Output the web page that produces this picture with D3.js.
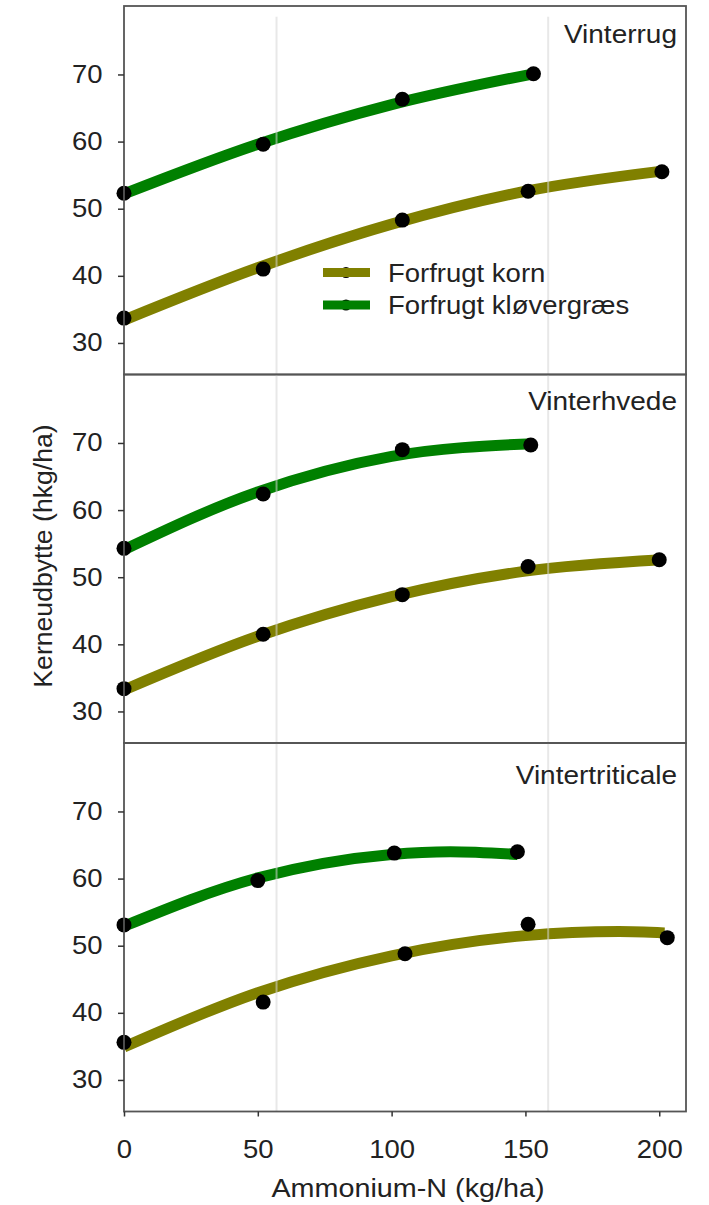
<!DOCTYPE html>
<html>
<head>
<meta charset="utf-8">
<script src="https://cdn.jsdelivr.net/npm/d3@7"></script>
<style>
  body { margin: 0; background: #fff; }
  text { font-family: "Liberation Sans", Arial, sans-serif; fill: #222; }
</style>
</head>
<body>
<svg width="709" height="1205"></svg>
<script>
// Data
const panels = ["Vinterrug", "Vinterhvede", "Vintertriticale"];
const seriesNames = ["Forfrugt korn", "Forfrugt kløvergræs"];
const seriesColors = ["#808000", "#008000"];

// observed points (N rate, yield)
const kornN = [[0, 52, 104, 151, 201], [0, 52, 104, 151, 200], [0, 52, 105, 151, 203]];
const kornYield = [[33.7, 41.0, 48.3, 52.6, 55.5], [33.4, 41.5, 47.4, 51.6, 52.6], [35.6, 41.6, 48.8, 53.2, 51.2]];
const kloverN = [[0, 52, 104, 153], [0, 52, 104, 152], [0, 50, 101, 147]];
const kloverYield = [[52.3, 59.6, 66.3, 70.1], [54.3, 62.4, 69.0, 69.7], [53.1, 59.7, 63.8, 64.0]];

// fitted response curves, read at a few N rates
const fitKornN = [[0, 50, 100, 150, 201], [0, 50, 100, 150, 201], [0, 50, 100, 150, 185, 202]];
const fitKorn = [[33.4, 41.2, 47.7, 52.6, 55.6], [33.2, 41.2, 47.1, 50.9, 52.6], [34.9, 43.0, 48.5, 51.5, 52.1, 51.9]];
const fitKloverN = [[0, 50, 100, 153], [0, 50, 100, 153], [0, 50, 100, 122, 147]];
const fitKlover = [[52.2, 59.6, 65.5, 70.1], [54.1, 62.7, 68.0, 69.9], [52.9, 60.1, 63.6, 64.0, 63.6]];

const xTicks = [0, 50, 100, 150, 200];
const yTicks = [30, 40, 50, 60, 70];
const gridN = [57, 158.5];

// Layout
const svg = d3.select("svg");
const panelTop = [6, 374.5, 743];
const panelH = 368.5;
const gridTop = [78.6, 80.2, 80.2];
const titleBase = [43, 410, 784];

const x = d3.scaleLinear().domain([0, 210]).range([124, 686]);

// stretch text horizontally a bit (the source font renders wider)
function stretch(sel, sx) {
  sel.each(function () {
    const t = d3.select(this);
    const tx = +t.attr("x") || 0, ty = +t.attr("y") || 0;
    t.attr("x", 0).attr("y", 0)
      .attr("transform", `translate(${tx},${ty}) scale(${sx},1)`);
  });
}

panels.forEach((name, i) => {
  const top = panelTop[i];
  const y = d3.scaleLinear().domain([25.3, 80.2]).range([top + panelH, top]);
  const g = svg.append("g");

  const line = d3.line()
    .x(d => x(d[0]))
    .y(d => y(d[1]))
    .curve(d3.curveMonotoneX);

  // fitted curves
  const fits = [
    d3.zip(fitKornN[i], fitKorn[i]),
    d3.zip(fitKloverN[i], fitKlover[i])
  ];
  g.selectAll("path.fit")
    .data(fits)
    .enter()
    .append("path")
    .attr("class", "fit")
    .attr("d", line)
    .attr("fill", "none")
    .attr("stroke", (d, j) => seriesColors[j])
    .attr("stroke-width", 11)
    .attr("stroke-linecap", "butt");

  // light vertical gridlines (drawn over the curves)
  g.selectAll("line.grid")
    .data(gridN)
    .enter()
    .append("line")
    .attr("class", "grid")
    .attr("x1", d => x(d)).attr("x2", d => x(d))
    .attr("y1", y(gridTop[i])).attr("y2", top + panelH)
    .attr("stroke", "#d6d6d6")
    .attr("stroke-opacity", 0.55)
    .attr("stroke-width", 2);

  // observed points
  const pts = d3.zip(kornN[i], kornYield[i]).concat(d3.zip(kloverN[i], kloverYield[i]));
  g.selectAll("circle.pt")
    .data(pts)
    .enter()
    .append("circle")
    .attr("class", "pt")
    .attr("cx", d => x(d[0]))
    .attr("cy", d => y(d[1]))
    .attr("r", 7.5)
    .attr("fill", "#000");

  // frame
  g.append("rect")
    .attr("x", x(0)).attr("y", top)
    .attr("width", x(210) - x(0)).attr("height", panelH)
    .attr("fill", "none")
    .attr("stroke", "#555")
    .attr("stroke-width", 1.8);

  // y axis
  const ya = g.append("g")
    .attr("transform", `translate(${x(0)},0)`)
    .call(d3.axisLeft(y).tickValues(yTicks).tickSize(6).tickSizeOuter(0).tickPadding(15.5));
  ya.select(".domain").remove();
  ya.selectAll(".tick line").attr("stroke", "#333").attr("stroke-width", 1.5);
  ya.selectAll(".tick text")
    .attr("font-size", 25)
    .attr("font-family", "Liberation Sans, Arial, sans-serif")
    .attr("fill", "#222");
  stretch(ya.selectAll(".tick text"), 1.1);

  // panel title
  svg.append("text")
    .attr("x", 677).attr("y", titleBase[i])
    .attr("text-anchor", "end")
    .attr("font-size", 25)
    .text(name)
    .call(stretch, 1.12);
});

// x axis under the last panel
const xa = svg.append("g")
  .attr("transform", `translate(0,${panelTop[2] + panelH})`)
  .call(d3.axisBottom(x).tickValues(xTicks).tickSize(5).tickSizeOuter(0).tickPadding(23.5));
xa.select(".domain").remove();
xa.selectAll(".tick line").attr("stroke", "#333").attr("stroke-width", 1.5);
xa.selectAll(".tick text")
  .attr("font-size", 25)
  .attr("font-family", "Liberation Sans, Arial, sans-serif")
  .attr("fill", "#222");
stretch(xa.selectAll(".tick text"), 1.1);

// axis titles
svg.append("text")
  .attr("x", 408).attr("y", 1197)
  .attr("text-anchor", "middle")
  .attr("font-size", 25)
  .text("Ammonium-N (kg/ha)")
  .call(stretch, 1.15);

svg.append("text")
  .attr("transform", "translate(52,556) rotate(-90) scale(1.065,1)")
  .attr("text-anchor", "middle")
  .attr("font-size", 25)
  .text("Kerneudbytte (hkg/ha)");

// legend
const legendY = [272.5, 305];
const lg = svg.append("g");
seriesNames.forEach((s, j) => {
  lg.append("circle")
    .attr("cx", 346).attr("cy", legendY[j])
    .attr("r", 5.5).attr("fill", "#000");
  lg.append("line")
    .attr("x1", 323).attr("x2", 370)
    .attr("y1", legendY[j]).attr("y2", legendY[j])
    .attr("stroke", seriesColors[j])
    .attr("stroke-width", 9);
  lg.append("text")
    .attr("x", 388).attr("y", legendY[j] + 9)
    .attr("font-size", 25)
    .text(s)
    .call(stretch, 1.1);
});
</script>
</body>
</html>
